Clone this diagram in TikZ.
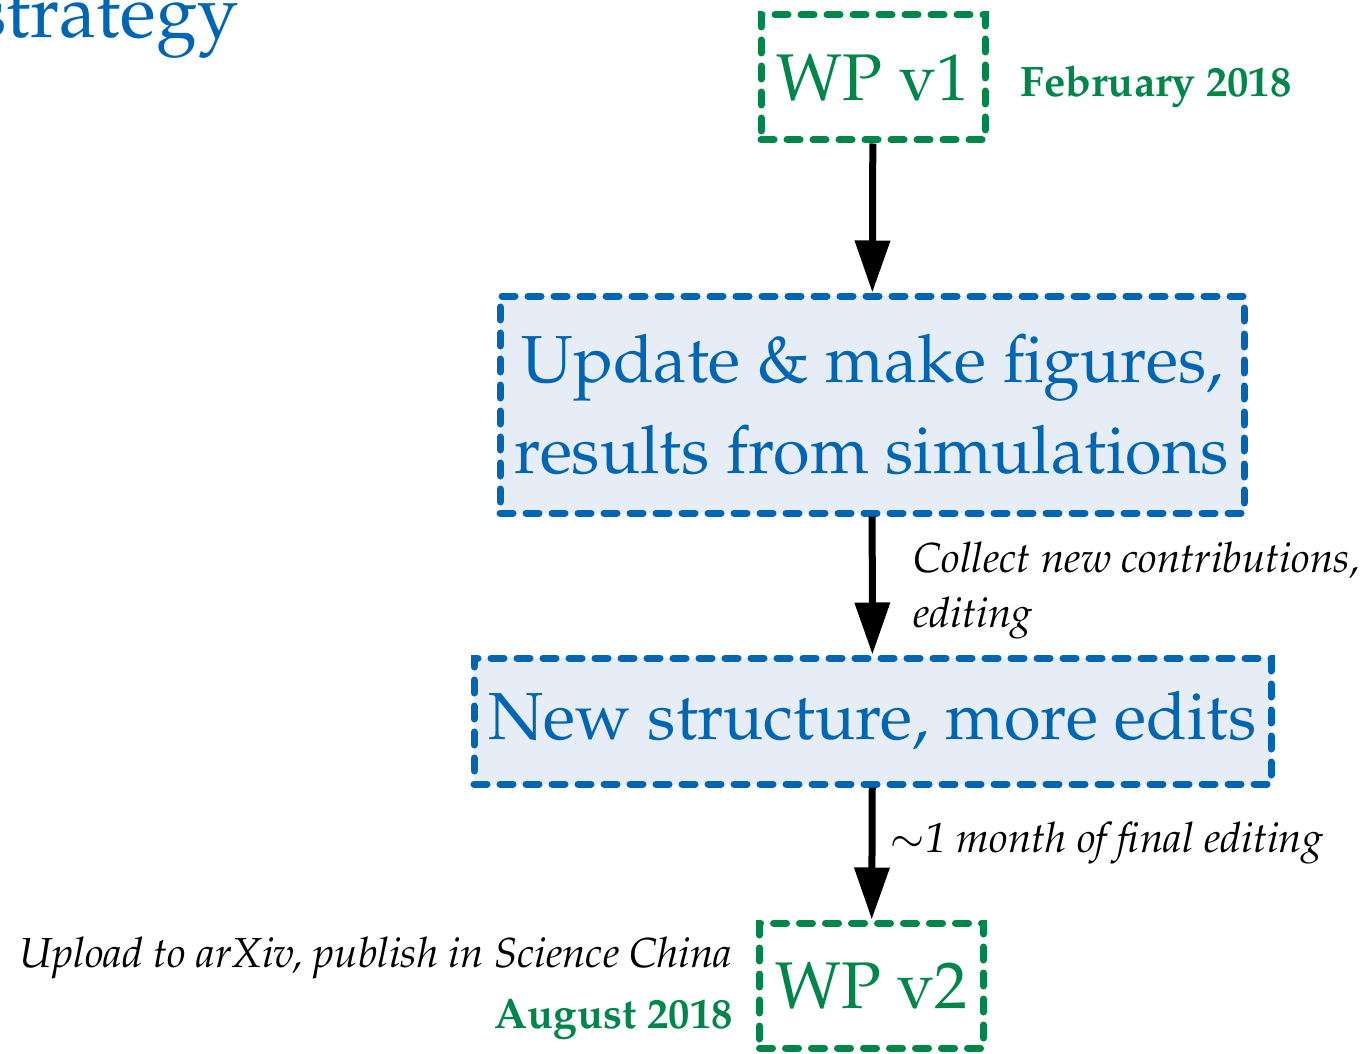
\documentclass[tikz,border=0pt]{standalone}
\usepackage[T1]{fontenc}
\usepackage{mathpazo}
\usepackage{tikz}
\usepackage{xcolor}
\usetikzlibrary{arrows.meta}

\definecolor{slideblue}{RGB}{0,102,179}
\definecolor{wpgreen}{RGB}{0,133,74}
\definecolor{boxfill}{RGB}{230,237,247}

\begin{document}
\begin{tikzpicture}[x=0.5pt, y=-0.5pt,
  wpbox/.style={draw=wpgreen, line width=3.5pt, dash pattern=on 6.5pt off 6.5pt, line cap=round,
    text=wpgreen, font=\fontsize{33}{40}\selectfont, inner sep=0pt,
    minimum width=112pt, minimum height=62.5pt},
  taskbox/.style={draw=slideblue, fill=boxfill, line width=3.5pt, dash pattern=on 6.5pt off 6.5pt,
    line cap=round, text=slideblue, font=\fontsize{33.3}{45.5}\selectfont, align=center, inner sep=0pt},
  flow/.style={line width=3.5pt, -{Triangle[width=17pt,length=26pt]}},
  note/.style={font=\fontsize{21}{27.5}\selectfont\itshape, inner sep=0pt},
  date/.style={font=\fontsize{21.3}{25}\selectfont\bfseries, text=wpgreen, inner sep=0pt}]
\useasboundingbox (0,0) rectangle (1371,1054);
\clip (0,0) rectangle (1371,1054);

% slide title, cut off at the left
\node[anchor=base east, text=slideblue, font=\fontsize{37}{44}\selectfont, inner sep=0pt] (title) at (239,38) {strategy};

% boxes
\node[wpbox] (wpa) at (873,77.5) {WP v1};
\node[taskbox, minimum width=372pt, minimum height=108.5pt] (upd) at (872,404.5) {Update \& make figures,\\results from simulations};
\node[taskbox, minimum width=398.5pt, minimum height=63pt] (nse) at (872.5,721) {New structure, more edits};
\node[wpbox] (wpb) at (871.5,985.5) {WP v2};

% dates and notes
\node[date, anchor=base west] (feb) at (1020,97) {February 2018};
\node[note, anchor=base west, align=left] (collect) at (913,627) {Collect new contributions,\\editing};
\node[note, anchor=base west] (month) at (890,852) {$\sim$1 month of final editing};
\node[note, anchor=base east] (upload) at (733,967) {Upload to arXiv, publish in Science China};
\node[date, anchor=base east] (aug) at (733,1028) {August 2018};

% arrows
\draw[flow] (wpa) -- (upd);
\draw[flow] (upd) -- (nse);
\draw[flow] (nse) -- (wpb);
\end{tikzpicture}
\end{document}
